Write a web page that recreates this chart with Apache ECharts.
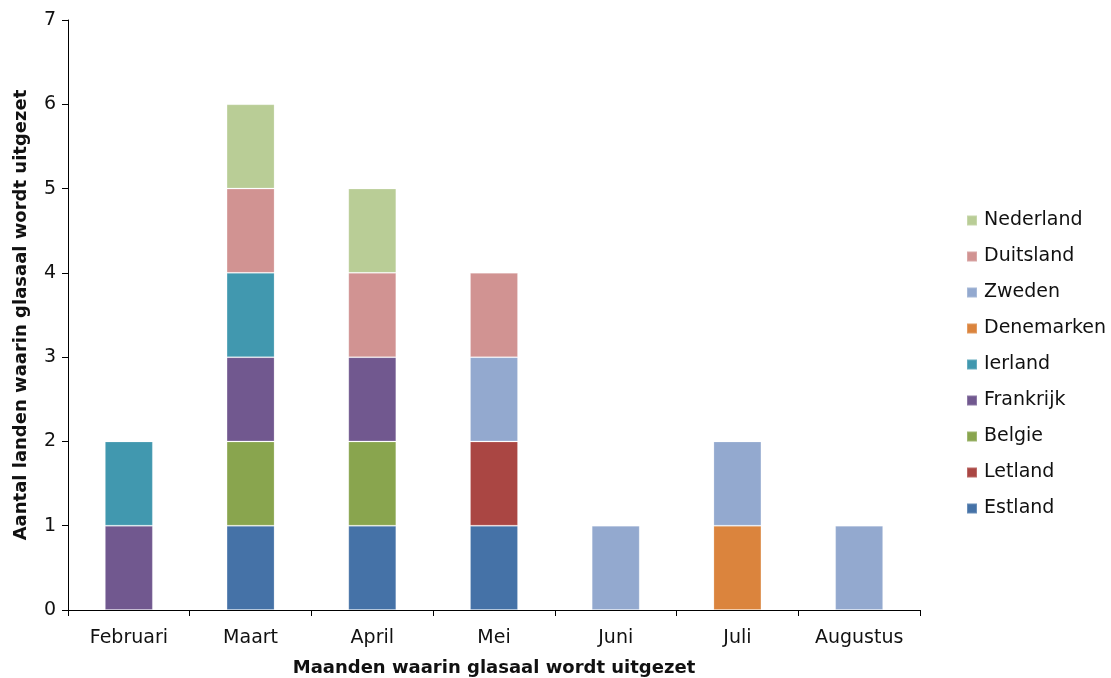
<!DOCTYPE html>
<html>
<head>
<meta charset="utf-8">
<script src="https://cdn.jsdelivr.net/npm/echarts@6/dist/echarts.min.js"></script>
<style>
  html, body { margin: 0; padding: 0; background: #fff; }
  #chart { width: 1111px; height: 678px; }
</style>
</head>
<body>
<div id="chart"></div>
<script>
// Months in which glass eel is released
const months = ['Februari', 'Maart', 'April', 'Mei', 'Juni', 'Juli', 'Augustus'];

// Number of countries per month, one array per country (stack order bottom to top)
const estland    = [null, 1, 1, 1, null, null, null];
const letland    = [null, null, null, 1, null, null, null];
const belgie     = [null, 1, 1, null, null, null, null];
const frankrijk  = [1, 1, 1, null, null, null, null];
const ierland    = [1, 1, null, null, null, null, null];
const denemarken = [null, null, null, null, null, 1, null];
const zweden     = [null, null, null, 1, 1, 1, 1];
const duitsland  = [null, 1, 1, 1, null, null, null];
const nederland  = [null, 1, 1, null, null, null, null];

const yTicks = [0, 1, 2, 3, 4, 5, 6, 7];

const seriesDefs = [
  { name: 'Estland',    data: estland,    color: '#4572A7' },
  { name: 'Letland',    data: letland,    color: '#AA4643' },
  { name: 'Belgie',     data: belgie,     color: '#89A54E' },
  { name: 'Frankrijk',  data: frankrijk,  color: '#71588F' },
  { name: 'Ierland',    data: ierland,    color: '#4198AF' },
  { name: 'Denemarken', data: denemarken, color: '#DB843D' },
  { name: 'Zweden',     data: zweden,     color: '#93A9CF' },
  { name: 'Duitsland',  data: duitsland,  color: '#D19392' },
  { name: 'Nederland',  data: nederland,  color: '#B9CD96' }
];

const FONT = '"DejaVu Sans", Verdana, sans-serif';

const chart = echarts.init(document.getElementById('chart'));
chart.setOption({
  animation: false,
  backgroundColor: '#ffffff',
  textStyle: { fontFamily: FONT },
  grid: { left: 68, right: 191, top: 20, bottom: 68, containLabel: false, outerBoundsMode: 'none' },
  legend: {
    orient: 'vertical',
    left: 966,
    top: 211,
    padding: 0,
    itemWidth: 10,
    itemHeight: 10,
    itemGap: 17,
    icon: 'rect',
    data: seriesDefs.map(s => s.name).reverse(),
    textStyle: { fontFamily: FONT, fontSize: 19, color: '#111', lineHeight: 19, padding: [0, 0, 0, 2] }
  },
  xAxis: {
    type: 'category',
    data: months,
    name: 'Maanden waarin glasaal wordt uitgezet',
    nameLocation: 'middle',
    nameGap: 49,
    nameTextStyle: { fontFamily: FONT, fontSize: 18, fontWeight: 'bold', color: '#111' },
    axisLine: { lineStyle: { color: '#000', width: 1 } },
    axisTick: { show: true, length: 6, inside: false, alignWithLabel: false, lineStyle: { color: '#000' } },
    axisLabel: { fontFamily: FONT, fontSize: 19, color: '#111', margin: 19 }
  },
  yAxis: {
    type: 'value',
    min: 0,
    max: 7,
    interval: 1,
    name: 'Aantal landen waarin glasaal wordt uitgezet',
    nameLocation: 'middle',
    nameGap: 38,
    nameTextStyle: { fontFamily: FONT, fontSize: 18, fontWeight: 'bold', color: '#111' },
    axisLine: { show: true, lineStyle: { color: '#000', width: 1 } },
    axisTick: { show: true, length: 6, lineStyle: { color: '#000' } },
    splitLine: { show: false },
    axisLabel: {
      fontFamily: FONT, fontSize: 19, color: '#111', margin: 12,
      formatter: v => (yTicks.indexOf(v) >= 0 ? String(v) : '')
    }
  },
  series: seriesDefs.map(s => ({
    name: s.name,
    type: 'bar',
    stack: 'landen',
    barWidth: 48,
    data: s.data,
    itemStyle: { color: s.color, borderColor: 'rgba(255,255,255,0.2)', borderWidth: 1 }
  }))
});
</script>
</body>
</html>
